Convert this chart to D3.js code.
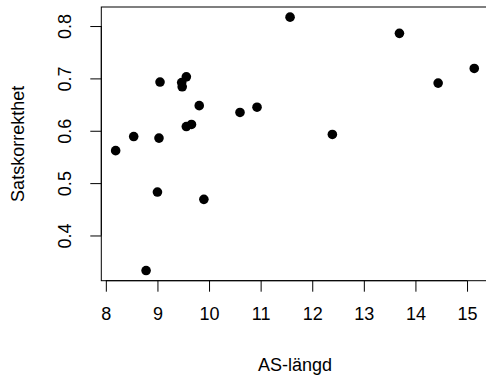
<!DOCTYPE html>
<html>
<head>
<meta charset="utf-8">
<script src="https://cdn.jsdelivr.net/npm/d3@7"></script>
<style>
  html, body { margin: 0; padding: 0; background: #fff; }
  svg { display: block; }
  text { font-family: "Liberation Sans", Arial, sans-serif; fill: #000; }
</style>
</head>
<body>
<div id="chart"></div>
<script>
// Data
const asLength = [8.19, 8.54, 9.05, 9.03, 9.47, 9.48, 9.56, 9.81, 9.56, 9.66,
                  10.60, 10.93, 11.57, 13.69, 14.44, 15.14, 12.39, 9.00, 9.90, 8.78];
const satskorrekthet = [0.562, 0.589, 0.693, 0.586, 0.692, 0.684, 0.703, 0.648, 0.608, 0.612,
                        0.635, 0.645, 0.817, 0.786, 0.691, 0.719, 0.593, 0.483, 0.469, 0.333];
const xTicks = [8, 9, 10, 11, 12, 13, 14, 15];
const yTicks = [0.4, 0.5, 0.6, 0.7, 0.8];
const xTitle = "AS-längd";
const yTitle = "Satskorrekthet";

const W = 486, H = 380;
const plot = { left: 101.3, right: 488.6, top: 7, bottom: 280.7 };

function rExtend(vals) {
  const [a, b] = d3.extent(vals);
  const pad = (b - a) * 0.04;
  return [a - pad, b + pad];
}

const x = d3.scaleLinear().domain(rExtend(asLength)).range([plot.left, plot.right]);
const y = d3.scaleLinear().domain(rExtend(satskorrekthet)).range([plot.bottom, plot.top]);

const svg = d3.select("#chart").append("svg").attr("width", W).attr("height", H);

// Box
svg.append("rect")
  .attr("x", plot.left).attr("y", plot.top)
  .attr("width", plot.right - plot.left).attr("height", plot.bottom - plot.top)
  .attr("fill", "none").attr("stroke", "#000").attr("stroke-width", 1);

// X axis
const xAxis = svg.append("g")
  .attr("transform", `translate(0,${plot.bottom})`)
  .call(d3.axisBottom(x).tickValues(xTicks).tickFormat(d3.format("d")).tickSize(11).tickPadding(16));
xAxis.selectAll("text").style("font-size", "18px");
xAxis.select(".domain").attr("d", `M${x(xTicks[0])},0H${x(xTicks[xTicks.length-1])}`);
xAxis.attr("font-family", null);

// Y axis
const yAxis = svg.append("g")
  .attr("transform", `translate(${plot.left},0)`)
  .call(d3.axisLeft(y).tickValues(yTicks).tickFormat(d3.format(".1f")).tickSize(11));
yAxis.select(".domain").attr("d", `M0,${y(yTicks[0])}V${y(yTicks[yTicks.length-1])}`);
yAxis.attr("font-family", null);
yAxis.selectAll("text")
  .attr("x", null).attr("dy", null)
  .attr("text-anchor", "middle")
  .attr("transform", "translate(-30,0) rotate(-90)")
  .style("font-size", "18px");

// Points
svg.append("g").selectAll("circle")
  .data(asLength.map((d, i) => [d, satskorrekthet[i]]))
  .join("circle")
  .attr("cx", d => x(d[0]))
  .attr("cy", d => y(d[1]))
  .attr("r", 4.8)
  .attr("fill", "#000");

// Titles
svg.append("text")
  .attr("x", (plot.left + plot.right) / 2)
  .attr("y", 371)
  .attr("text-anchor", "middle")
  .style("font-size", "18px")
  .text(xTitle);

svg.append("text")
  .attr("transform", `translate(23.5,${(plot.top + plot.bottom) / 2}) rotate(-90)`)
  .attr("text-anchor", "middle")
  .style("font-size", "18px")
  .text(yTitle);
</script>
</body>
</html>
